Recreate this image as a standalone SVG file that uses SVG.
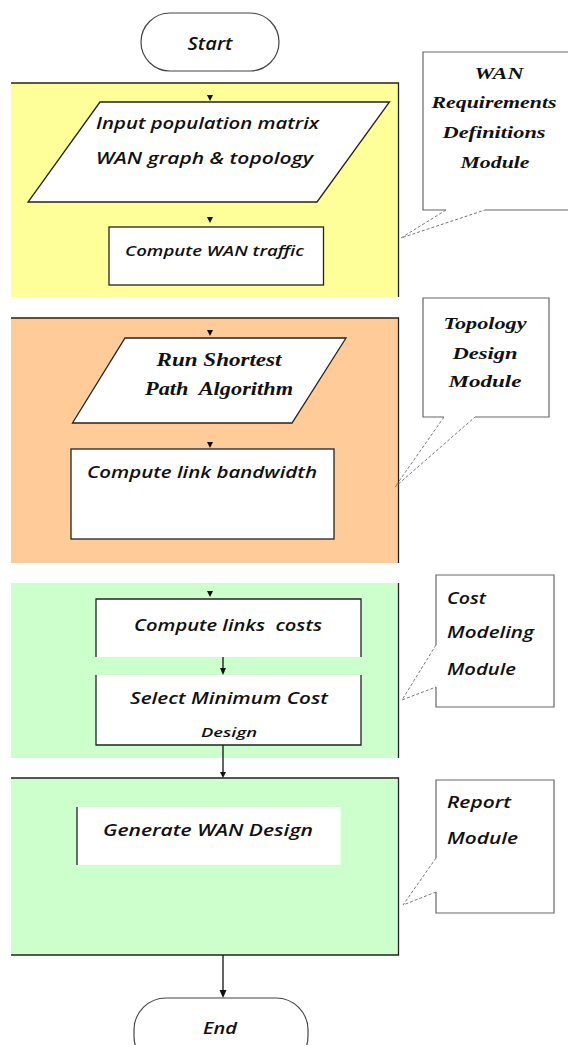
<svg xmlns="http://www.w3.org/2000/svg" width="568" height="1045" viewBox="0 0 568 1045">
  <defs>
    <style>
      .panel-edge { stroke: #222; stroke-width: 1.3; fill: none; }
      .node { fill: #fff; stroke: #222; stroke-width: 1.3; }
      .term { fill: #fff; stroke: #444; stroke-width: 1.2; }
      .sans { font-family: "Open Sans", "Noto Sans", "DejaVu Sans", sans-serif; font-style: italic; font-weight: 600; fill: #111; }
      .serif { font-family: "Liberation Serif", "DejaVu Serif", serif; font-style: italic; font-weight: bold; fill: #111; }
      .pre { white-space: pre; }
      .callout { fill: #fff; stroke: #666; stroke-width: 1.2; }
      .pointer { stroke: #777; stroke-width: 1; stroke-dasharray: 3 2; fill: none; }
      .link { stroke: #111; stroke-width: 1.3; fill: none; }
      .head { fill: #111; }
    </style>
  </defs>

  <!-- module backgrounds -->
  <g id="panel-requirements">
    <rect x="11" y="83" width="388" height="214" fill="#FFFF99"/>
    <polyline class="panel-edge" points="11,83 398.5,83 398.5,297"/>
  </g>
  <g id="panel-topology">
    <rect x="11" y="318" width="388" height="245" fill="#FFCC99"/>
    <polyline class="panel-edge" points="11,318 398.5,318 398.5,563"/>
  </g>
  <g id="panel-cost">
    <rect x="11" y="583" width="388" height="175" fill="#CCFFCC"/>
    <line class="panel-edge" x1="398.5" y1="583" x2="398.5" y2="758"/>
  </g>
  <g id="panel-report">
    <rect x="11" y="778" width="388" height="177" fill="#CCFFCC"/>
    <polyline class="panel-edge" points="11,778 398.5,778 398.5,955 11,955"/>
  </g>

  <!-- flow connectors -->
  <g id="connectors">
    <polygon class="head" points="207,95 213,95 210,101"/>
    <polygon class="head" points="207,217 213,217 210,223"/>
    <polygon class="head" points="207,330 213,330 210,336"/>
    <polygon class="head" points="207,442 213,442 210,448"/>
    <polygon class="head" points="207,591 213,591 210,597"/>
    <line class="link" x1="223" y1="657" x2="223" y2="669"/>
    <polygon class="head" points="220,668 226,668 223,675"/>
    <line class="link" x1="223" y1="745" x2="223" y2="773"/>
    <polygon class="head" points="220,772 226,772 223,778"/>
    <line class="link" x1="223" y1="955" x2="223" y2="991"/>
    <polygon class="head" points="219.5,990 226.5,990 223,998"/>
  </g>

  <!-- terminators -->
  <g id="start">
    <rect class="term" x="141" y="13" width="138" height="58" rx="29"/>
    <text class="sans" x="210" y="50" font-size="18" font-weight="bold" text-anchor="middle" textLength="45" lengthAdjust="spacingAndGlyphs">Start</text>
  </g>
  <g id="end">
    <rect class="term" x="134" y="998" width="174" height="70" rx="32"/>
    <text class="sans" x="220" y="1034" font-size="17" text-anchor="middle" textLength="34" lengthAdjust="spacingAndGlyphs">End</text>
  </g>

  <!-- requirements module -->
  <g id="input-data">
    <polygon class="node" points="100,102 389.5,102 317,202 28,202"/>
    <text class="sans" x="96" y="129" font-size="16" textLength="223" lengthAdjust="spacingAndGlyphs">Input population matrix</text>
    <text class="sans" x="96" y="164" font-size="16" textLength="217" lengthAdjust="spacingAndGlyphs">WAN graph &amp; topology</text>
  </g>
  <g id="compute-traffic">
    <rect class="node" x="109" y="227" width="214.5" height="58"/>
    <text class="sans" x="125" y="256" font-size="14.5" textLength="179" lengthAdjust="spacingAndGlyphs">Compute WAN traffic</text>
  </g>

  <!-- topology module -->
  <g id="shortest-path">
    <polygon class="node" points="125,338 346,338 292,423 72.5,423"/>
    <text class="serif" x="219" y="366" font-size="18" text-anchor="middle" textLength="125" lengthAdjust="spacingAndGlyphs">Run Shortest</text>
    <text class="serif pre" x="219" y="395" font-size="18" text-anchor="middle" textLength="148" lengthAdjust="spacingAndGlyphs">Path  Algorithm</text>
  </g>
  <g id="link-bandwidth">
    <rect class="node" x="71" y="449" width="263" height="90"/>
    <text class="sans" x="87" y="478" font-size="16" textLength="230" lengthAdjust="spacingAndGlyphs">Compute link bandwidth</text>
  </g>

  <!-- cost module -->
  <g id="link-costs">
    <rect x="96" y="599" width="265" height="58" fill="#fff"/>
    <polyline class="panel-edge" points="96,657 96,599 361,599 361,657"/>
    <text class="sans pre" x="134" y="631" font-size="15.5" textLength="188" lengthAdjust="spacingAndGlyphs">Compute links  costs</text>
  </g>
  <g id="min-cost">
    <rect x="96" y="675" width="265" height="70" fill="#fff"/>
    <polyline class="panel-edge" points="96,675 96,745 361,745 361,675"/>
    <text class="sans" x="229" y="704" font-size="15.5" text-anchor="middle" textLength="198" lengthAdjust="spacingAndGlyphs">Select Minimum Cost</text>
    <text class="sans" x="229" y="737" font-size="12" font-weight="normal" text-anchor="middle" textLength="56" lengthAdjust="spacingAndGlyphs">Design</text>
  </g>

  <!-- report module -->
  <g id="generate-design">
    <rect x="77" y="807" width="263.5" height="58" fill="#fff"/>
    <line class="panel-edge" x1="77" y1="807" x2="77" y2="865"/>
    <text class="sans" x="103" y="836" font-size="15.5" textLength="210" lengthAdjust="spacingAndGlyphs">Generate WAN Design</text>
  </g>

  <!-- module callouts -->
  <g id="callout-requirements">
    <path class="callout" d="M446,210 L423,210 L423,52 L570,52 L570,210 L485,210"/>
    <polyline class="pointer" points="446,210 401,238 485,210"/>
    <g class="serif" font-size="17" text-anchor="middle">
      <text x="499" y="79" textLength="49" lengthAdjust="spacingAndGlyphs">WAN</text>
      <text x="494" y="108" textLength="125" lengthAdjust="spacingAndGlyphs">Requirements</text>
      <text x="494" y="138" textLength="103" lengthAdjust="spacingAndGlyphs">Definitions</text>
      <text x="495" y="168" textLength="69" lengthAdjust="spacingAndGlyphs">Module</text>
    </g>
  </g>
  <g id="callout-topology">
    <path class="callout" d="M444,417 L423,417 L423,298 L549,298 L549,417 L475,417"/>
    <polyline class="pointer" points="444,417 395,487 475,417"/>
    <g class="serif" font-size="17" text-anchor="middle">
      <text x="485" y="329" textLength="83" lengthAdjust="spacingAndGlyphs">Topology</text>
      <text x="485" y="359" textLength="65" lengthAdjust="spacingAndGlyphs">Design</text>
      <text x="485" y="387" textLength="73" lengthAdjust="spacingAndGlyphs">Module</text>
    </g>
  </g>
  <g id="callout-cost">
    <path class="callout" d="M436,645 L436,575 L554,575 L554,707 L436,707 L436,687"/>
    <polyline class="pointer" points="436,645 402,700 436,687"/>
    <g class="sans" font-size="15.5">
      <text x="447" y="604" textLength="39" lengthAdjust="spacingAndGlyphs">Cost</text>
      <text x="447" y="638" textLength="87" lengthAdjust="spacingAndGlyphs">Modeling</text>
      <text x="447" y="675" textLength="69" lengthAdjust="spacingAndGlyphs">Module</text>
    </g>
  </g>
  <g id="callout-report">
    <path class="callout" d="M436,858 L436,780 L554,780 L554,913 L436,913 L436,892"/>
    <polyline class="pointer" points="436,858 403,905 436,892"/>
    <g class="sans" font-size="15.5">
      <text x="447" y="808" textLength="64" lengthAdjust="spacingAndGlyphs">Report</text>
      <text x="447" y="844" textLength="71" lengthAdjust="spacingAndGlyphs">Module</text>
    </g>
  </g>
</svg>
